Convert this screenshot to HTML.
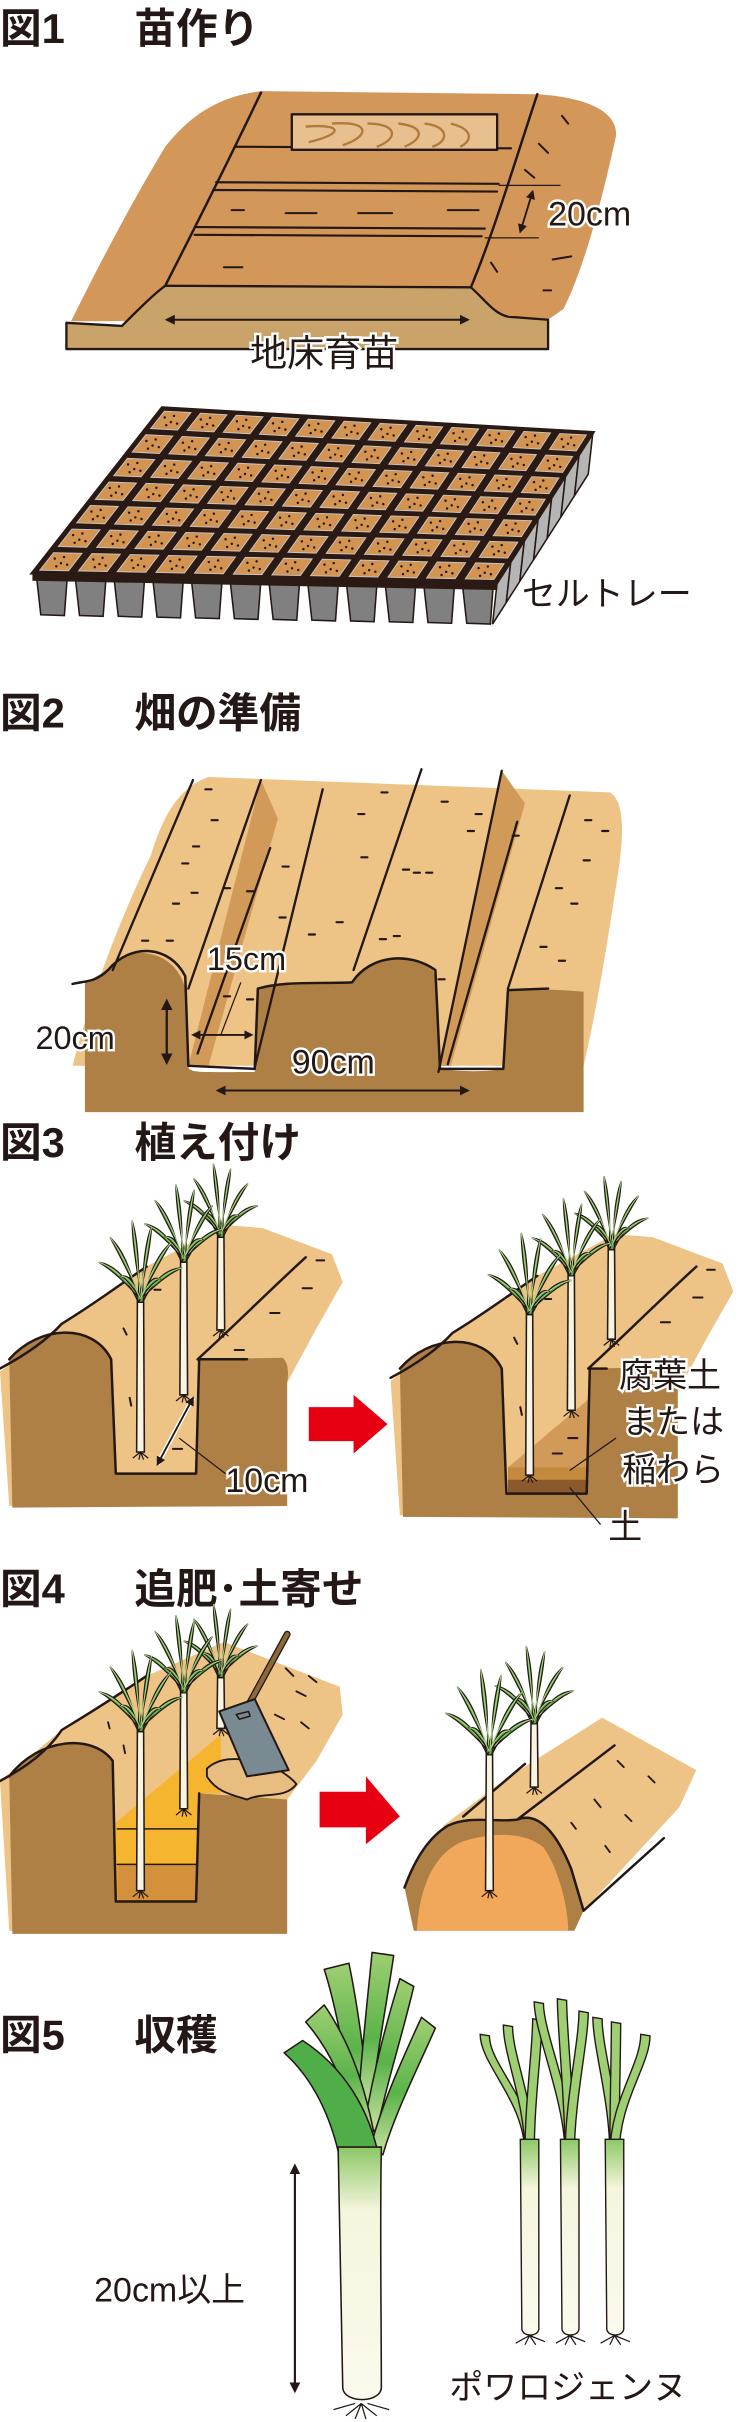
<!DOCTYPE html>
<html><head><meta charset="utf-8">
<style>
html,body{margin:0;padding:0;background:#fff;}
svg{display:block;}
text{font-family:"Liberation Sans","Noto Sans CJK JP",sans-serif;fill:#231815;}
.t{font-weight:bold;font-size:27px;}
.h{paint-order:stroke;stroke:#fff;stroke-width:3px;}
.o{stroke:#231815;stroke-linejoin:round;stroke-linecap:round;}
</style></head>
<body>
<svg id="s" xmlns="http://www.w3.org/2000/svg" width="738" height="2422" viewBox="0 0 478 1568" preserveAspectRatio="none">
<defs>
<marker id="ah" viewBox="0 0 10 10" refX="8" refY="5" markerWidth="5" markerHeight="5" orient="auto-start-reverse"><path d="M0,0 L10,5 L0,10 Z" fill="#231815"/></marker>
<linearGradient id="lk" x1="0" y1="0" x2="0" y2="1"><stop offset="0" stop-color="#9fcf73"/><stop offset="0.55" stop-color="#5bb34a"/><stop offset="1" stop-color="#c8e2a0"/></linearGradient>
<linearGradient id="st" x1="0" y1="0" x2="0" y2="1"><stop offset="0" stop-color="#8cc866"/><stop offset="0.25" stop-color="#f6f5dd"/><stop offset="1" stop-color="#fbfaee"/></linearGradient>
</defs>

<!-- Titles -->
<text class="t" x="0" y="28">図1</text><text class="t" x="87" y="28">苗作り</text>
<text class="t" x="0" y="471">図2</text><text class="t" x="87" y="471">畑の準備</text>
<text class="t" x="0" y="749">図3</text><text class="t" x="87" y="749">植え付け</text>
<text class="t" x="0" y="1038">図4</text><text class="t" x="87" y="1038">追肥･土寄せ</text>
<text class="t" x="0" y="1327">図5</text><text class="t" x="87" y="1327">収穫</text>

<!-- FIG1 seed bed -->
<path d="M46,208 C60,180 80,140 107,95 C125,72 145,62 169,59 L348,61 C380,63 400,72 399,88 C392,120 380,170 365,200 L355,207 Z" fill="#d4975a"/>
<path class="o" d="M43,209 L79,211 C90,200 100,190 107,185 L305,186 C315,195 320,203 329,205 L355,207 L355,226 L43,226 Z" fill="#c9a36a" stroke-width="1.5"/>
<path class="o" d="M169,60 C150,100 130,140 107,185 M348,61 C335,100 320,150 305,186" fill="none" stroke-width="1.6"/>
<path class="o" d="M152,95 L331,96 M140,118 L323,119 M138,123 L322,124 M127,147 L314,148 M126,152 L312,153" fill="none" stroke-width="1.4"/>
<path class="o" d="M150,136 l8,0 M185,138 l20,0 M232,138 l22,0 M290,136 l20,0 M145,173 l12,0 M364,75 l4,5 M349,93 l6,6 M340,110 l6,5 M358,168 l12,-2 M318,170 l4,6 M352,188 l5,0" fill="none" stroke-width="1.3"/>
<rect class="o" x="189" y="74" width="133" height="23" fill="#e8c08f" stroke-width="1.5"/>
<path d="M198,82 C220,80 225,86 200,92 M215,80 C240,78 240,88 222,94 M238,80 C258,80 258,90 244,95 M258,80 C276,82 274,90 262,95 M275,80 C292,82 290,92 280,95 M292,80 C308,84 305,92 298,95" fill="none" stroke="#b07a3a" stroke-width="1.5"/>
<path d="M323,120 L363,120 M314,154 L349,154" stroke="#231815" stroke-width="0.8"/>
<line x1="345" y1="124" x2="337" y2="150" stroke="#231815" stroke-width="1.2" marker-start="url(#ah)" marker-end="url(#ah)"/>
<text class="h" x="355" y="146" font-size="22">20cm</text>
<line x1="108" y1="207" x2="303" y2="207" stroke="#231815" stroke-width="1.3" marker-start="url(#ah)" marker-end="url(#ah)"/>
<text class="h" x="162" y="237" font-size="24">地床育苗</text>

<!-- FIG1 tray -->
<g id="tray"></g>
<text x="338" y="392" font-size="22">セルトレー</text>

<!-- FIG2 -->
<path d="M98,553 C105,530 115,510 135,503 L395,513 C406,520 404,545 398,580 C392,620 385,660 378,690 L47,690 C60,640 80,590 98,553 Z" fill="#eec386"/>
<path d="M169,505 L180,530 L135,690 L122,690 Z M325,499 L340,520 L292,690 L284,690 Z" fill="#d29a58"/>
<path d="M55,636 C62,633 70,628 78,620 C95,612 115,620 120,640 L122,690 C122,695 128,694 165,694 L167,640 C180,636 200,636 228,636 C238,620 262,617 280,626 C286,640 284,680 285,692 C300,694 315,694 326,692 L329,641 C340,640 350,640 378,642 L378,720 L55,720 Z" fill="#ae8046"/>
<path class="o" d="M47,637 C55,635 62,636 70,628 C85,610 110,612 120,632 L122,690 L165,692 L167,640 C185,635 205,637 228,636 C240,618 265,616 282,628 L285,692 L326,692 L329,641 L355,640" fill="none" stroke-width="1.6"/>
<path class="o" d="M125,505 L73,628 M169,505 L122,640 M175,549 L128,682 M209,511 L165,691 M273,498 L229,628 M325,499 L284,694 M335,532 L290,689 M369,515 L329,640" fill="none" stroke-width="1.5"/>
<g id="d2" fill="none" stroke="#231815" stroke-width="1.4" stroke-linecap="round"></g>
<line x1="108" y1="648" x2="108" y2="688" stroke="#231815" stroke-width="1.5" marker-start="url(#ah)" marker-end="url(#ah)"/>
<line x1="125" y1="670" x2="163" y2="670" stroke="#231815" stroke-width="1.2" marker-start="url(#ah)" marker-end="url(#ah)"/>
<line x1="143" y1="670" x2="156" y2="636" stroke="#231815" stroke-width="0.8"/>
<line x1="141" y1="706" x2="303" y2="706" stroke="#231815" stroke-width="1.3" marker-start="url(#ah)" marker-end="url(#ah)"/>
<text class="h" x="23" y="679" font-size="21">20cm</text>
<text class="h" x="134" y="628" font-size="21">15cm</text>
<text class="h" x="189" y="695" font-size="22">90cm</text>

<!-- FIG3 left -->
<g id="f3l">
<path d="M0,888 L40,857 L95,820 L145,793 L170,795 L215,812 L222,830 L205,860 L186,895 L186,975 L6,975 Z" fill="#eec386"/>
<path d="M6,880 C25,858 60,856 72,880 L75,954 L127,954 L129,880 L183,879 C187,882 187,890 186,895 L186,975 L8,976 Z" fill="#ae8046"/>
<path class="o" d="M0,886 C15,878 30,868 40,857 C60,845 80,830 95,820 M6,880 C25,858 60,856 72,880 L75,954 L127,954 L129,880 L160,880 M128,880 C150,860 175,835 198,814" fill="none" stroke-width="1.6"/>
<path class="o" d="M100,835 l4,0 M80,860 l2,4 M84,905 l1,5 M196,834 l6,0 M175,850 l6,0 M205,816 l5,0 M152,874 l6,0 M112,938 l6,0" fill="none" stroke-width="1.3"/>
</g>
<g id="p3l"></g>
<line x1="102" y1="948" x2="125" y2="905" stroke="#fff" stroke-width="3"/>
<line x1="102" y1="948" x2="125" y2="905" stroke="#231815" stroke-width="1.2" marker-start="url(#ah)" marker-end="url(#ah)"/>
<line x1="116" y1="931" x2="146" y2="954" stroke="#231815" stroke-width="0.8"/>
<text class="h" x="146" y="966" font-size="22">10cm</text>
<path d="M200,911 L229,911 L229,903 L251,922 L229,941 L229,933 L200,933 Z" fill="#e60012"/>

<!-- FIG3 right -->
<g transform="translate(253,6)">
<path d="M0,888 L40,857 L95,820 L145,793 L170,795 L215,812 L222,830 L205,860 L186,895 L186,975 L6,975 Z" fill="#eec386"/>
<path d="M76,944 L128,900 L128,958 L76,958 Z" fill="#d29a58"/>
<rect x="76" y="944" width="52" height="8" fill="#c48a3c"/>
<rect x="76" y="952" width="52" height="9" fill="#8a5a2c"/>
<path d="M6,880 C25,858 60,856 72,880 L75,961 L127,961 L129,880 L183,879 C187,882 187,890 186,895 L186,977 L8,976 Z" fill="#ae8046"/>
<path class="o" d="M0,886 C15,878 30,868 40,857 C60,845 80,830 95,820 M6,880 C25,858 60,856 72,880 L75,961 L127,961 L129,880 L140,880 M128,880 C150,860 175,835 198,814" fill="none" stroke-width="1.6"/>
<path class="o" d="M100,835 l4,0 M80,860 l2,4 M84,905 l1,5 M196,834 l6,0 M175,850 l6,0 M205,816 l5,0 M105,935 l6,0 M115,925 l6,0" fill="none" stroke-width="1.3"/>
</g>
<g id="p3r"></g>
<path d="M399,931 L369,952 M389,987 L369,963" stroke="#231815" stroke-width="0.8"/>
<text class="h" x="401" y="898" font-size="22">腐葉土</text>
<text class="h" x="403" y="928" font-size="22">または</text>
<text class="h" x="403" y="959" font-size="22">稲わら</text>
<text class="h" x="394" y="996" font-size="22">土</text>

<!-- FIG4 left -->
<path d="M0,1153 L40,1120 L95,1085 L145,1063 L220,1092 L222,1110 L205,1140 L186,1165 L186,1250 L6,1250 Z" fill="#eec386"/>
<path d="M75,1180 L143,1123 L143,1161 L128,1161 L128,1231 L75,1231 Z" fill="#f5b52e"/>
<rect x="76" y="1184" width="52" height="23" fill="#f5b52e"/>
<rect x="76" y="1207" width="52" height="24" fill="#d2913a"/>
<path class="o" d="M76,1207 L128,1207 M76,1184 L128,1184" stroke-width="1"/>
<path d="M6,1150 C25,1125 60,1122 73,1140 L75,1231 L127,1231 L129,1161 L186,1165 L186,1252 L8,1252 Z" fill="#ae8046"/>
<path class="o" d="M0,1153 C15,1145 30,1135 40,1120 C60,1108 80,1095 95,1085 M6,1150 C25,1125 60,1122 73,1140 L75,1231 L127,1231 L129,1161" fill="none" stroke-width="1.6"/>
<path class="o" d="M134,1145 C145,1135 160,1140 170,1140 C180,1145 188,1150 192,1155 C185,1165 170,1160 160,1165 C150,1162 140,1160 134,1150 Z" fill="#e8bd80" stroke-width="1.2"/>
<path class="o" d="M185,1080 l5,5 M192,1095 l6,3 M200,1085 l5,4 M178,1110 l6,3 M195,1115 l5,4 M70,1115 l1,4 M80,1130 l1,5" fill="none" stroke-width="1.2"/>
<g id="p4l"></g>
<line x1="162" y1="1102" x2="186" y2="1058" stroke="#231815" stroke-width="4.5" stroke-linecap="round"/>
<line x1="162" y1="1102" x2="186" y2="1058" stroke="#8b6a3a" stroke-width="2.8" stroke-linecap="round"/>
<path class="o" d="M142,1108 L165,1100 L187,1146 L160,1150 Z" fill="#7a8a92" stroke-width="1.3"/>
<path class="o" d="M153,1110 l8,-2 l1,3 l-7,2 Z" fill="none" stroke-width="1"/>
<path d="M207,1160 L237,1160 L237,1150 L259,1176 L237,1194 L237,1183 L207,1183 Z" fill="#e60012"/>

<!-- FIG4 right -->
<path d="M287,1182 L330,1150 L390,1112 L451,1146 L440,1170 L378,1237 L300,1240 Z" fill="#eec386"/>
<path d="M262,1222 C270,1200 280,1188 290,1182 C305,1175 320,1180 335,1178 C350,1172 362,1190 370,1210 L378,1237 L372,1250 L268,1250 Z" fill="#ae8046"/>
<path d="M270,1250 C272,1215 285,1198 300,1192 C320,1186 340,1186 352,1196 C362,1210 368,1235 368,1250 Z" fill="#f2a85a"/>
<path class="o" d="M262,1222 C270,1200 280,1188 290,1182 C305,1175 320,1180 335,1178 C350,1172 362,1190 370,1210 L378,1237 M335,1178 L398,1130 M378,1237 L430,1190 M300,1176 L340,1142" fill="none" stroke-width="1.6"/>
<path class="o" d="M400,1140 l4,4 M420,1150 l4,4 M385,1165 l4,5 M405,1175 l4,4 M370,1180 l3,4 M392,1195 l3,4" fill="none" stroke-width="1.2"/>
<g id="p4r"></g>

<!-- FIG5 -->
<line x1="191" y1="1402" x2="191" y2="1548" stroke="#231815" stroke-width="1.4" marker-start="url(#ah)" marker-end="url(#ah)"/>
<text x="61" y="1490" font-size="22">20cm以上</text>
<g id="leek"></g>
<text x="291" y="1553" font-size="22">ポワロジェンヌ</text>
</svg>
<script>
var S=document.getElementById('s'),NS='http://www.w3.org/2000/svg';
function el(t,a,p){var e=document.createElementNS(NS,t);for(var k in a)e.setAttribute(k,a[k]);(p||S).appendChild(e);return e;}
function pts(a){return a.map(function(p){return p[0].toFixed(1)+','+p[1].toFixed(1)}).join(' ');}
// tray
(function(){
var g=document.getElementById('tray');
var TL=[105,264],TR=[384,280],BL=[21,371],BR=[322,377];
function P(u,v){return [TL[0]*(1-u)*(1-v)+TR[0]*u*(1-v)+BL[0]*(1-u)*v+BR[0]*u*v,TL[1]*(1-u)*(1-v)+TR[1]*u*(1-v)+BL[1]*(1-u)*v+BR[1]*u*v];}
var C=12,R=7,H=27;
for(var j=R-1;j>=0;j--){var a=P(1,j/R),b=P(1,(j+1)/R);
el('polygon',{points:pts([a,b,[b[0]-3,b[1]+H],[a[0]-3,a[1]+H]]),fill:'#b5b5b5',stroke:'#231815','stroke-width':1},g);}
for(var i=0;i<C;i++){var a=P(i/C+0.008,1),b=P((i+1)/C-0.008,1);
el('polygon',{points:pts([a,b,[b[0]-2,b[1]+H],[a[0]+3,a[1]+H]]),fill:'#808080',stroke:'#231815','stroke-width':1},g);}
el('polygon',{points:pts([BL,BR,[BR[0],BR[1]+5],[BL[0],BL[1]+5]]),fill:'#2b1a14'},g);
el('polygon',{points:pts([TL,TR,BR,BL]),fill:'#2b1a14',stroke:'#2b1a14','stroke-width':2},g);
for(var i=0;i<C;i++)for(var j=0;j<R;j++){
var m=0.13,q=[P((i+m)/C,(j+m)/R),P((i+1-m)/C,(j+m)/R),P((i+1-m)/C,(j+1-m)/R),P((i+m)/C,(j+1-m)/R)];
el('polygon',{points:pts(q),fill:'#d39452',stroke:'#c8c8c8','stroke-width':0.6},g);
var c=P((i+.5)/C,(j+.5)/R);
[[-4,-2],[2,-3],[0,1],[4,2],[-3,3]].forEach(function(d){el('circle',{cx:c[0]+d[0],cy:c[1]+d[1],r:0.8,fill:'#231815'},g);});
}})();
// fig2 dashes
(function(){var g=document.getElementById('d2');
[[133,511],[137,531],[125,548],[118,559],[112,585],[124,578],[108,609],[92,609],[145,575],[160,577],[183,561],[181,594],[218,597],[234,555],[247,513],[232,527],[268,565],[261,563],[286,519],[276,565],[246,608],[255,606],[308,527],[303,538],[332,541],[379,531],[390,538],[378,557],[360,575],[370,585],[350,613],[362,622],[284,634],[145,645],[160,647],[200,605]].forEach(function(p){el('path',{d:'M'+p[0]+','+p[1]+' l4,0'},g);});})();
// plants
function plant(g,x,yb,yt,s,flip){
s=s||1;
el('path',{d:'M'+(x-2.5)+','+yb+' L'+(x-2)+','+yt+' L'+(x+2)+','+yt+' L'+(x+2.5)+','+yb+' Z',fill:'#f7f5e2',stroke:'#231815','stroke-width':1},g);
var tips=[[-30,-22],[-22,-40],[-6,-52],[8,-48],[22,-36],[30,-18],[-14,-12],[14,-10]];
tips.forEach(function(t){var tx=x+t[0]*s*(flip?-1:1),ty=yt+t[1]*s;
var mx=(x+tx)/2,my=(yt+ty)/2-6*s,dx=tx-x,dy=ty-yt,L=Math.sqrt(dx*dx+dy*dy),nx=-dy/L*3*s,ny=dx/L*3*s;
el('path',{d:'M'+(x-1.5)+','+(yt+6)+' Q'+(mx+nx)+','+(my+ny)+' '+tx+','+ty+' Q'+(mx-nx)+','+(my-ny)+' '+(x+1.5)+','+(yt+6)+' Z',fill:'#58ae47',stroke:'#231815','stroke-width':0.8},g);
el('path',{d:'M'+x+','+(yt+4)+' Q'+mx+','+my+' '+tx+','+ty,fill:'none',stroke:'#a6d47e','stroke-width':0.8*s},g);
});
el('path',{d:'M'+(x-5)+','+(yb+4)+' L'+x+','+yb+' L'+(x+5)+','+(yb+4)+' M'+x+','+yb+' l-1,5 M'+x+','+yb+' l2,5',stroke:'#231815','stroke-width':0.8,fill:'none'},g);
}
var g;
g=document.getElementById('p3l');plant(g,143,861,795,0.8);plant(g,119,903,811,0.85);plant(g,91,940,837,0.9);
g=document.getElementById('p3r');plant(g,396,867,803,0.8);plant(g,370,913,820,0.85);plant(g,343,955,845,0.9);
g=document.getElementById('p4l');plant(g,143,1119,1080,0.8);plant(g,119,1171,1090,0.85);plant(g,91,1224,1115,0.9);
g=document.getElementById('p4r');plant(g,346,1157,1110,0.85);plant(g,317,1224,1130,0.95);
// leeks
(function(){var g=document.getElementById('leek');
function leaf(d,f){el('path',{d:d,fill:f||'url(#lk)',stroke:'#231815','stroke-width':1,'stroke-linejoin':'round'},g);}
leaf('M210,1275 L226,1271 C232,1300 236,1330 240,1370 L230,1372 C224,1335 218,1300 210,1275 Z');
leaf('M241,1264 L255,1266 C250,1300 244,1330 240,1365 L232,1362 C234,1330 238,1295 241,1264 Z');
leaf('M259,1281 L268,1286 C260,1320 250,1350 244,1380 L236,1376 C242,1340 250,1310 259,1281 Z');
leaf('M198,1309 L210,1298 C225,1320 235,1345 242,1380 L232,1382 C225,1350 212,1325 198,1309 Z');
leaf('M273,1306 L282,1313 C270,1340 255,1370 248,1395 L240,1390 C248,1360 262,1330 273,1306 Z');
leaf('M184,1329 L196,1321 C222,1338 240,1365 246,1400 L221,1402 C215,1370 202,1345 184,1329 Z','#4fae48');
el('path',{d:'M219,1390 C220,1450 221,1510 222,1546 C223,1556 246,1556 247,1546 C247,1500 246,1440 247,1390 Z',fill:'url(#st)',stroke:'#231815','stroke-width':1},g);
el('path',{d:'M234,1556 l-10,8 M234,1556 l-4,10 M234,1556 l3,10 M234,1556 l10,8 M230,1556 l-14,4 M238,1556 l14,4',stroke:'#231815','stroke-width':0.8,fill:'none'},g);
[[343,[[314,1317],[329,1311],[348,1307]]],[369,[[349,1296],[364,1294],[378,1302]]],[398,[[387,1306],[399,1309],[418,1317]]]].forEach(function(k){
var x=k[0];
k[1].forEach(function(t){el('path',{d:'M'+(x-3)+','+1395+' C'+(x-3)+','+1360+' '+(t[0]-3)+','+(t[1]+20)+' '+(t[0]-3)+','+t[1]+' L'+(t[0]+3)+','+(t[1]+1)+' C'+(t[0]+3)+','+(t[1]+20)+' '+(x+3)+','+1360+' '+(x+3)+','+1395+' Z',fill:'#9fcf73',stroke:'#231815','stroke-width':0.9},g);});
el('path',{d:'M'+(x-6)+',1385 L'+(x-5)+',1508 C'+(x-4)+',1513 '+(x+5)+',1513 '+(x+6)+',1508 L'+(x+6)+',1385 Z',fill:'url(#st)',stroke:'#231815','stroke-width':0.9},g);
el('path',{d:'M'+x+',1512 l-9,5 M'+x+',1512 l-3,6 M'+x+',1512 l4,6 M'+x+',1512 l10,4',stroke:'#231815','stroke-width':0.8,fill:'none'},g);
});})();
</script>
</body></html>
